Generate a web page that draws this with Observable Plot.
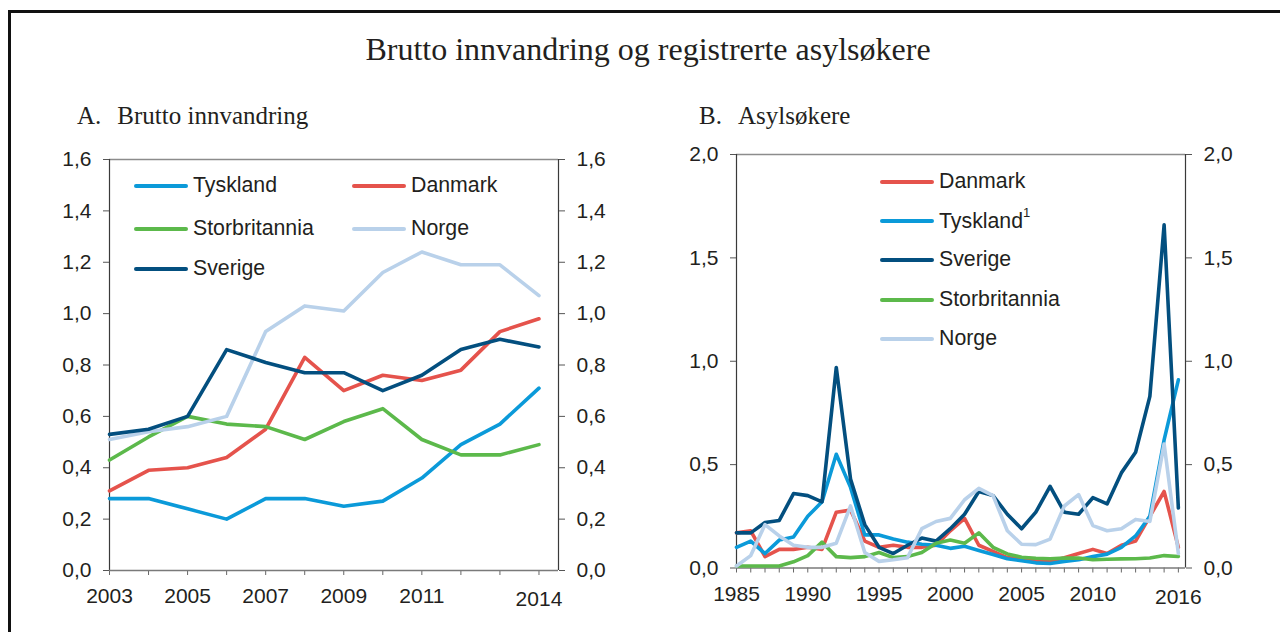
<!DOCTYPE html>
<html><head><meta charset="utf-8">
<script src="https://cdn.jsdelivr.net/npm/d3@7"></script>
<script src="https://cdn.jsdelivr.net/npm/@observablehq/plot@0.6"></script>
<style>
body{margin:0;background:#fff;width:1280px;height:632px;overflow:hidden;position:relative;font-family:"Liberation Sans",Arial,sans-serif;color:#231f20}
#frame{position:absolute;left:8px;top:10px;width:1300px;height:660px;border-left:3px solid #111;border-top:3px solid #111;box-sizing:border-box}
.serif{position:absolute;font-family:"Liberation Serif","Times New Roman",serif;color:#231f20;white-space:pre;line-height:1}
.panel{position:absolute}
.leg{position:absolute;display:flex;align-items:center;font-size:21.3px;line-height:1;white-space:nowrap;color:#231f20}
.leg .sw{display:inline-block;width:54px;height:4px;border-radius:2px;margin-right:5px}
.leg sup{font-size:13px;position:relative;top:-3px}
</style>
</head><body>
<div id="frame"></div>
<div class="serif" id="title" style="left:0;width:1296px;text-align:center;top:33px;font-size:32px">Brutto innvandring og registrerte asylsøkere</div>
<div class="serif" style="left:77px;top:103px;font-size:25px"><span>A.</span><span style="margin-left:16px">Brutto innvandring</span></div>
<div class="serif" style="left:699px;top:103px;font-size:25px"><span>B.</span><span style="margin-left:16px">Asylsøkere</span></div>
<div id="pa" class="panel" style="left:40px;top:130px"></div>
<div id="pb" class="panel" style="left:660px;top:130px"></div>
<div id="legA"></div>
<div id="legB"></div>
<script>
// ---------- Panel A: Brutto innvandring ----------
const yearsA = [2003,2004,2005,2006,2007,2008,2009,2010,2011,2012,2013,2014];
const seriesA = ["Tyskland","Danmark","Storbritannia","Norge","Sverige"];
const tysklandA      = [0.28,0.28,0.24,0.20,0.28,0.28,0.25,0.27,0.36,0.49,0.57,0.71];
const danmarkA       = [0.31,0.39,0.40,0.44,0.55,0.83,0.70,0.76,0.74,0.78,0.93,0.98];
const storbritanniaA = [0.43,0.52,0.60,0.57,0.56,0.51,0.58,0.63,0.51,0.45,0.45,0.49];
const norgeA         = [0.51,0.54,0.56,0.60,0.93,1.03,1.01,1.16,1.24,1.19,1.19,1.07];
const sverigeA       = [0.53,0.55,0.60,0.86,0.81,0.77,0.77,0.70,0.76,0.86,0.90,0.87];
const yTicksA = [0,0.2,0.4,0.6,0.8,1.0,1.2,1.4,1.6];
const xLabelsA = [2003,2005,2007,2009,2011];
const xLabelsLowA = [2014];

// ---------- Panel B: Asylsøkere ----------
const yearsB = [1985,1986,1987,1988,1989,1990,1991,1992,1993,1994,1995,1996,1997,1998,1999,2000,2001,2002,2003,2004,2005,2006,2007,2008,2009,2010,2011,2012,2013,2014,2015,2016];
const seriesB = ["Danmark","Tyskland","Sverige","Storbritannia","Norge"];
const danmarkB       = [0.17,0.18,0.055,0.09,0.09,0.10,0.09,0.27,0.28,0.13,0.10,0.11,0.10,0.10,0.11,0.18,0.24,0.11,0.08,0.05,0.045,0.035,0.032,0.05,0.07,0.09,0.07,0.11,0.13,0.25,0.37,0.10];
const tysklandB      = [0.10,0.13,0.07,0.135,0.15,0.25,0.32,0.55,0.39,0.16,0.16,0.14,0.125,0.115,0.11,0.095,0.105,0.085,0.065,0.045,0.035,0.025,0.022,0.032,0.04,0.055,0.067,0.10,0.155,0.25,0.62,0.91];
const sverigeB       = [0.17,0.17,0.22,0.23,0.36,0.35,0.32,0.97,0.43,0.21,0.10,0.07,0.11,0.145,0.13,0.19,0.26,0.37,0.35,0.26,0.19,0.27,0.395,0.27,0.26,0.34,0.31,0.46,0.56,0.83,1.66,0.29];
const storbritanniaB = [0.01,0.01,0.01,0.01,0.03,0.06,0.125,0.055,0.05,0.055,0.075,0.05,0.055,0.075,0.12,0.135,0.12,0.17,0.10,0.068,0.052,0.047,0.045,0.048,0.048,0.04,0.042,0.044,0.045,0.048,0.06,0.056];
const norgeB         = [0.01,0.06,0.21,0.155,0.11,0.10,0.10,0.12,0.30,0.075,0.032,0.04,0.05,0.19,0.225,0.24,0.33,0.385,0.35,0.18,0.115,0.113,0.14,0.30,0.355,0.205,0.18,0.19,0.235,0.225,0.60,0.07];
const yTicksB = [0,0.5,1.0,1.5,2.0];
const xLabelsB = [1985,1990,1995,2000,2005,2010];
const xLabelsLowB = [2016];

const colorOf = {
  "Tyskland": "#0b9ad9",
  "Danmark": "#e5534c",
  "Storbritannia": "#5cb94b",
  "Norge": "#b9d1ea",
  "Sverige": "#034f7f"
};

function toLong(years, series, values) {
  const out = [];
  series.forEach((s, i) => values[i].forEach((v, j) => out.push({year: years[j], value: v, series: s})));
  return out;
}

const fmtY = d => d.toFixed(1).replace(".", ",");

function panel(o) {
  const data = toLong(o.years, o.series, o.values);
  const [x0, x1] = o.xDomain, [y0, y1] = o.yDomain;
  return Plot.plot({
    width: o.width, height: o.height,
    marginLeft: o.ml, marginRight: o.mr, marginTop: o.mt, marginBottom: o.mb,
    x: {domain: o.xDomain},
    y: {domain: o.yDomain},
    color: {domain: o.series, range: o.series.map(s => colorOf[s])},
    style: {fontSize: "21px", fontFamily: "'Liberation Sans', Arial, sans-serif", color: "#231f20", background: "transparent", overflow: "visible"},
    marks: [
      Plot.ruleY([y1], {stroke: "#8c8c8c", strokeWidth: 1.5}),
      Plot.ruleX([x0], {stroke: "#3a3a3a", strokeWidth: 1.2}),
      Plot.ruleX([x1], {stroke: "#3a3a3a", strokeWidth: 1.2}),
      Plot.axisY({anchor: "left", ticks: o.yTicks, tickFormat: fmtY, tickSize: 6, tickPadding: 12, label: null, stroke: "#555", fill: "#231f20"}),
      Plot.axisY({anchor: "right", ticks: o.yTicks, tickFormat: fmtY, tickSize: 6, tickPadding: 12, label: null, stroke: "#555", fill: "#231f20"}),
      Plot.axisX({ticks: o.years, tickFormat: () => "", tickSize: 5, label: null, stroke: "#666"}),
      Plot.axisX({ticks: o.xLabels, tickFormat: d => String(d), tickSize: 0, tickPadding: 18, label: null, fill: "#231f20"}),
      Plot.axisX({ticks: o.xLabelsLow, tickFormat: d => String(d), tickSize: 0, tickPadding: 21, label: null, fill: "#231f20"}),
      Plot.ruleY([y0], {stroke: "#7a7a7a", strokeWidth: 1.5}),
      Plot.lineY(data, {x: "year", y: "value", z: "series", stroke: "series", strokeWidth: 3.6})
    ]
  });
}

document.getElementById("pa").append(panel({
  years: yearsA, series: seriesA,
  values: [tysklandA, danmarkA, storbritanniaA, norgeA, sverigeA],
  xDomain: [2003, 2014.5], yDomain: [0, 1.6], yTicks: yTicksA,
  xLabels: xLabelsA, xLabelsLow: xLabelsLowA,
  width: 580, height: 490, ml: 69, mr: 62, mt: 29, mb: 50
}));

document.getElementById("pb").append(panel({
  years: yearsB, series: seriesB,
  values: [danmarkB, tysklandB, sverigeB, storbritanniaB, norgeB],
  xDomain: [1985, 2016.5], yDomain: [0, 2.0], yTicks: yTicksB,
  xLabels: xLabelsB, xLabelsLow: xLabelsLowB,
  width: 600, height: 490, ml: 76, mr: 75, mt: 24, mb: 52.5
}));

// legends (layout positions only)
const legLayoutA = {"Tyskland": [134, 186], "Danmark": [352, 186], "Storbritannia": [134, 229], "Norge": [352, 229], "Sverige": [134, 269]};
const legLayoutB = {"Danmark": [880, 182], "Tyskland": [880, 221], "Sverige": [880, 260], "Storbritannia": [880, 300], "Norge": [880, 339]};
const superscripts = {B: {"Tyskland": "1"}};

function legend(el, series, layout, sup) {
  series.forEach(s => {
    const [x, y] = layout[s];
    const d = document.createElement("div");
    d.className = "leg";
    d.style.left = x + "px";
    d.style.top = (y - 11) + "px";
    d.style.height = "22px";
    d.innerHTML = `<span class="sw" style="background:${colorOf[s]}"></span><span>${s}${sup && sup[s] ? `<sup>${sup[s]}</sup>` : ""}</span>`;
    el.append(d);
  });
}
legend(document.getElementById("legA"), seriesA, legLayoutA, null);
legend(document.getElementById("legB"), seriesB, legLayoutB, superscripts.B);
</script>
</body></html>
